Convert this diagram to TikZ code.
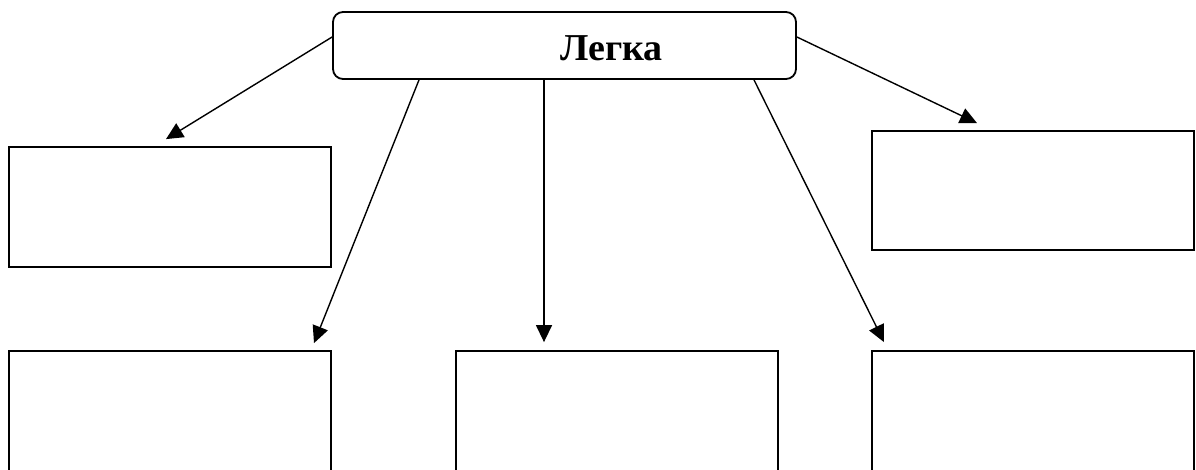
\documentclass[tikz,border=0pt]{standalone}
\usepackage{fontspec}
\setmainfont{Liberation Serif}
\usetikzlibrary{arrows.meta}
\begin{document}
\begin{tikzpicture}[x=1pt,y=-1pt,
  box/.style={draw,line width=1.8pt,minimum width=322pt,inner sep=0pt},
  conn/.style={line width=1.4pt,-{Triangle[length=17pt,width=16pt]}}]
\useasboundingbox (0,0) rectangle (1196,469);
\clip (0,0) rectangle (1196,469);
\node[box,rounded corners=10pt,minimum width=463pt,minimum height=67pt,
  label={[xshift=47pt,yshift=-3pt,font=\fontsize{38}{40}\selectfont\bfseries]center:Легка}]
  (top) at (564.5,45.5) {};
\node[box,minimum height=120pt] (tl) at (170,207) {};
\node[box,minimum height=119pt] (tr) at (1033,190.5) {};
\node[box,minimum height=140pt] (bl) at (170,421) {};
\node[box,minimum height=140pt] (bm) at (617,421) {};
\node[box,minimum height=140pt] (br) at (1033,421) {};
\draw[conn] ([yshift=8.5pt]top.west) -- ([xshift=-4pt,yshift=7pt]tl.north);
\draw[conn] ([xshift=-145.5pt]top.south) -- ([xshift=144pt,yshift=7pt]bl.north);
\draw[conn] ([xshift=-20.5pt]top.south) -- ([xshift=-73pt,yshift=8pt]bm.north);
\draw[conn] ([xshift=189.5pt]top.south) -- ([xshift=-149pt,yshift=8pt]br.north);
\draw[conn] ([yshift=8.5pt]top.east) -- ([xshift=-56pt,yshift=7pt]tr.north);
\end{tikzpicture}
\end{document}
